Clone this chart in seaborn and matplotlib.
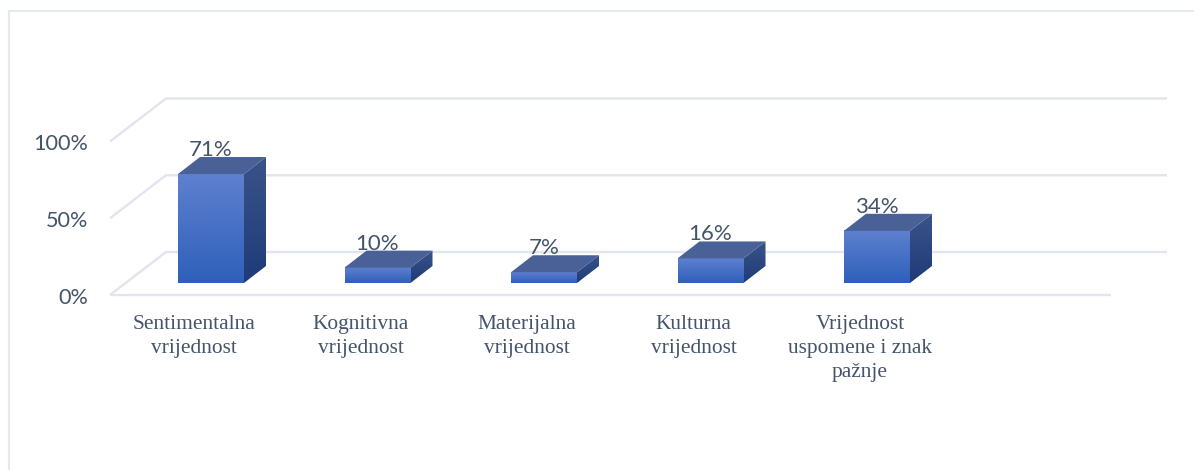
"""Pseudo-3D bar chart of perceived value categories."""
import matplotlib
matplotlib.use('Agg')
import matplotlib.pyplot as plt
import numpy as np
import pandas as pd
import seaborn as sns
from matplotlib.colors import LinearSegmentedColormap
from matplotlib.lines import Line2D
from matplotlib.patches import Polygon

categories = ['Sentimentalna\nvrijednost', 'Kognitivna\nvrijednost', 'Materijalna\nvrijednost',
              'Kulturna\nvrijednost', 'Vrijednost\nuspomene i znak\npažnje']
values = [71, 10, 7, 16, 34]
y_ticks = [0, 50, 100]
y_tick_labels = ['0%', '50%', '100%']

W, H = 1194, 470
SLOT = 166.5          # px per category
PX_Y = 1.535          # px per percent
X0, Y0 = 211, 283     # px position of first bar centre / bar base

TEXT = '#44546a'
GRID = '#e3e5ee'
TOP_FACE = '#4a6197'
front_cmap = LinearSegmentedColormap.from_list('front', ['#5f80cf', '#2e60ba'])
side_cmap = LinearSegmentedColormap.from_list('side', ['#3a5389', '#1f3b78'])


def dx(px):
    return px / SLOT


def dy(px):
    return px / PX_Y


sns.set_theme(style='white')
plt.rcParams['font.family'] = ['Lato', 'DejaVu Sans']

fig = plt.figure(figsize=(W / 100, H / 100), dpi=100)
ax = fig.add_axes([0, 0, 1, 1])

df = pd.DataFrame({'category': categories, 'value': values})
sns.barplot(data=df, x='category', y='value', width=66 / SLOT, color='#3a66c0', ax=ax, zorder=3)

xlim = (-dx(X0), dx(W - X0))
ylim = (-dy(H - Y0), dy(Y0))

# floor and back wall gridlines
grid_kw = dict(color=GRID, lw=1.7, solid_capstyle='butt', zorder=1)
front_left, front_right = -dx(X0 - 110), dx(1111 - X0)
floor_gap = dy(295 - Y0)
back_dx, back_dy = dx(56), dy(43)
for v in y_ticks:
    ax.plot([front_left, front_left + back_dx, front_right + back_dx],
            [v - floor_gap, v - floor_gap + back_dy, v - floor_gap + back_dy], **grid_kw)
    ax.text(front_left - dx(22), v - floor_gap - dy(3), y_tick_labels[y_ticks.index(v)],
            ha='right', va='center', fontsize=15.6, color=TEXT)
ax.plot([front_left, front_right], [-floor_gap, -floor_gap], **grid_kw)

# depth of the bars
depth_x, depth_y = dx(22), dy(17)
grad = np.linspace(0, 1, 128).reshape(-1, 1)
for i, bar in enumerate(ax.patches):
    x1, x2 = bar.get_x(), bar.get_x() + bar.get_width()
    h = bar.get_height()
    bar.set_visible(False)

    front = ax.imshow(grad, cmap=front_cmap, extent=(x1, x2, 0, h), aspect='auto', zorder=3)
    side = ax.imshow(grad, cmap=side_cmap, extent=(x2, x2 + depth_x, 0, h + depth_y), aspect='auto', zorder=3)
    side_poly = Polygon([(x2, 0), (x2 + depth_x, depth_y), (x2 + depth_x, h + depth_y), (x2, h)],
                        transform=ax.transData, fc='none', ec='none')
    ax.add_patch(side_poly)
    side.set_clip_path(side_poly)
    ax.add_patch(Polygon([(x1, h), (x1 + depth_x, h + depth_y), (x2 + depth_x, h + depth_y), (x2, h)],
                         fc=TOP_FACE, ec='none', zorder=3))

    ax.text((x1 + x2) / 2, h + depth_y + dy(1), f'{values[i]}%', ha='center', va='baseline',
            fontsize=16, color=TEXT, zorder=2)
    ax.text(i - dx(17), -dy(315 - Y0), categories[i], ha='center', va='top',
            fontsize=15.4, family='Liberation Serif', color=TEXT, linespacing=1.35)

ax.set_xlim(xlim)
ax.set_ylim(ylim)
ax.axis('off')

# chart frame
fig.add_artist(Line2D([9 / W, 9 / W, 1], [0, 1 - 11 / H, 1 - 11 / H], color='#e4e8ef', lw=1.6))

fig.savefig('out.png', dpi=100)
